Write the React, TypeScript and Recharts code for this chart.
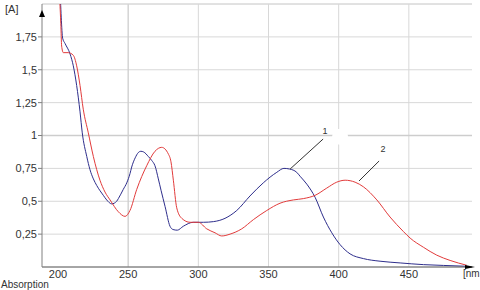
import React from 'react';
import { LineChart, Line, XAxis, YAxis, CartesianGrid, ReferenceLine, ReferenceDot } from 'recharts';

// wavelength ticks (nm) and absorbance ticks
const nmTicks = [200, 250, 300, 350, 400, 450];
const nmGrid = [250, 300, 350, 400, 450];
const absTicks = [0.25, 0.5, 0.75, 1, 1.25, 1.5, 1.75];

// curve 1 (blue)
const nm1 = [201.8, 202.3, 203.3, 205.0, 208.6, 210.9, 213.3, 215.7, 217.3, 220.5, 222.8, 225.2, 227.6, 232.3, 234.7, 238.3, 241.8, 243.0, 246.5, 249.0, 251.3, 252.5, 255.0, 257.2, 259.0, 261.0, 264.4, 266.8, 269.1, 271.5, 273.5, 276.3, 279.8, 282.0, 285.0, 289.3, 296.4, 303.6, 310.7, 319.0, 327.4, 336.8, 346.3, 355.9, 361.0, 365.0, 370.1, 372.5, 377.3, 383.2, 389.1, 395.1, 401.0, 408.1, 417.6, 429.5, 443.8, 460.4, 474.6, 490.0];
const abs1 = [2.02, 1.9, 1.74, 1.7, 1.62, 1.53, 1.38, 1.18, 1.02, 0.84, 0.74, 0.67, 0.62, 0.545, 0.51, 0.48, 0.5, 0.52, 0.59, 0.64, 0.71, 0.76, 0.83, 0.87, 0.88, 0.875, 0.84, 0.81, 0.77, 0.67, 0.58, 0.46, 0.31, 0.285, 0.28, 0.31, 0.34, 0.34, 0.345, 0.37, 0.43, 0.54, 0.64, 0.72, 0.75, 0.745, 0.72, 0.69, 0.63, 0.53, 0.38, 0.26, 0.17, 0.1, 0.064, 0.044, 0.031, 0.018, 0.012, 0.006];

// curve 2 (red)
const nm2 = [201.3, 202.0, 202.6, 203.8, 207.3, 210.9, 213.3, 215.7, 218.0, 221.6, 225.2, 229.9, 233.5, 237.1, 243.0, 247.8, 251.3, 256.1, 263.2, 269.1, 273.9, 278.6, 280.5, 282.2, 284.6, 288.2, 294.1, 300.0, 306.0, 311.9, 316.7, 322.6, 330.9, 339.2, 348.8, 358.2, 367.7, 374.8, 383.2, 391.5, 398.6, 404.6, 411.7, 417.6, 427.2, 436.6, 446.1, 450.9, 460.4, 469.9, 479.4, 491.3];
const abs2 = [2.02, 1.85, 1.68, 1.63, 1.63, 1.61, 1.53, 1.38, 1.2, 1.02, 0.84, 0.66, 0.57, 0.51, 0.42, 0.385, 0.43, 0.59, 0.77, 0.88, 0.91, 0.86, 0.8, 0.66, 0.45, 0.37, 0.34, 0.34, 0.29, 0.26, 0.236, 0.25, 0.29, 0.36, 0.43, 0.485, 0.51, 0.52, 0.545, 0.6, 0.645, 0.66, 0.645, 0.61, 0.51, 0.38, 0.27, 0.22, 0.15, 0.09, 0.05, 0.013];

// curve numbers with leader lines
const leaderText = ['1', '2'];
const leaderNm = [[365.4, 388.9], [414.5, 428.8]];
const leaderAbs = [[0.745, 0.973], [0.654, 0.806]];
const textNm = [390.3, 431.6];
const textAbs = [1.034, 0.897];

const series1 = nm1.map((x, i) => ({ nm: x, a: abs1[i] }));
const series2 = nm2.map((x, i) => ({ nm: x, a: abs2[i] }));

const FONT = '"Liberation Sans", Arial, sans-serif';

const yLabel = (props: any) => {
  const vb = props.viewBox;
  const ax = vb.x + vb.width;
  return (
    <g>
      <text x={5} y={vb.y + 9} fontSize={11} fontFamily={FONT} fill="#333">[A]</text>
      <polygon points={`${ax},${vb.y + 6} ${ax - 3},${vb.y + 13} ${ax + 3},${vb.y + 13}`} fill="#000" />
    </g>
  );
};

const xLabel = (props: any) => {
  const vb = props.viewBox;
  const ex = vb.x + vb.width;
  return (
    <g>
      <polygon points={`${ex + 3},${vb.y} ${ex - 7},${vb.y - 2} ${ex - 7},${vb.y + 2}`} fill="#000" />
      <text x={463} y={vb.y + 10} fontSize={10} fontFamily={FONT} fill="#333">[nm</text>
      <text x={1} y={288} fontSize={10} fontFamily={FONT} fill="#333">Absorption</text>
    </g>
  );
};

const App: React.FC = () => {
  return (
    <div style={{ position: 'absolute', left: 0, top: 0, width: 480, height: 290, background: '#fff' }}>
      <LineChart width={480} height={290} margin={{ top: 4, right: 8, bottom: 0, left: 0 }}>
        <CartesianGrid vertical={false} stroke="#d8d8d8" />
        {nmGrid.map((v) => (
          <ReferenceLine key={v} x={v} stroke={v === 250 ? '#cdcdcd' : '#d8d8d8'} strokeWidth={v === 250 ? 1.3 : 1} />
        ))}
        <ReferenceLine y={2} stroke="#d8d8d8" />
        <ReferenceLine y={1} stroke="#cdcdcd" strokeWidth={1.3} />
        <ReferenceDot x={401} y={0.99} r={8} fill="#fff" stroke="none" />
        <XAxis
          type="number"
          dataKey="nm"
          domain={[188.6, 495]}
          allowDataOverflow
          ticks={nmTicks}
          tickLine={false}
          tickSize={2}
          tickMargin={1}
          height={23}
          axisLine={{ stroke: '#606060' }}
          tick={{ fontSize: 11, fontFamily: FONT, fill: '#333' }}
          label={{ content: xLabel }}
        />
        <YAxis
          type="number"
          domain={[0, 2]}
          allowDataOverflow
          ticks={absTicks}
          width={42}
          tickSize={4}
          tickMargin={1}
          tickLine={{ stroke: '#808080' }}
          axisLine={{ stroke: '#808080' }}
          tick={{ fontSize: 11, fontFamily: FONT, fill: '#333' }}
          tickFormatter={(v: number) => String(v).replace('.', ',')}
          label={{ content: yLabel }}
        />
        <Line data={series1} dataKey="a" type="monotone" stroke="#2e2e8c" strokeWidth={1} dot={false} isAnimationActive={false} />
        <Line data={series2} dataKey="a" type="monotone" stroke="#e23b3b" strokeWidth={1} dot={false} isAnimationActive={false} />
        {leaderText.map((t, i) => (
          <ReferenceLine
            key={'l' + t}
            segment={[{ x: leaderNm[i][0], y: leaderAbs[i][0] }, { x: leaderNm[i][1], y: leaderAbs[i][1] }]}
            stroke="#333"
            strokeWidth={1}
          />
        ))}
        {leaderText.map((t, i) => (
          <ReferenceDot
            key={'t' + t}
            x={textNm[i]}
            y={textAbs[i]}
            r={0}
            fill="none"
            stroke="none"
            label={{ value: t, position: 'center', fontSize: 9, fontFamily: FONT, fill: '#333' }}
          />
        ))}
      </LineChart>
    </div>
  );
};

export default App;
